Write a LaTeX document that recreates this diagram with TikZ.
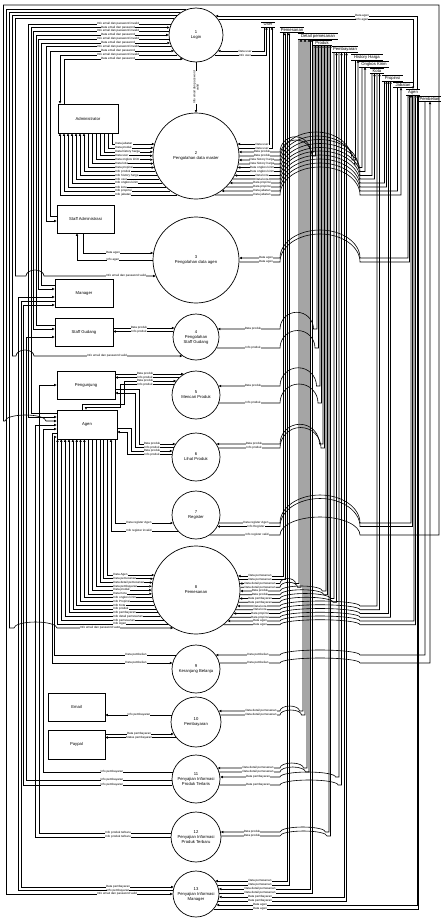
\documentclass[tikz,border=0pt]{standalone}
\usepackage{fontspec}
\setmainfont{Liberation Sans}
\usetikzlibrary{arrows.meta,calc}

\newcommand\lfl[7][center]{%
  \draw[flow,#2] let \p1=(#3.center),\p2=(#3.east),
    \n1={sqrt((\x2-\x1)^2-(\y1+#4)^2)} in (\x1-\n1,-#4pt) #7;
  \node[lbl,anchor=#1] at (#5,#4) {#6};}

\newcommand\rfl[7]{%
  \pgfmathsetmacro\hb{min(#3-3.5,360)}%
  \pgfmathsetmacro\hx{max((\hb-280)/2,0.5)}%
  \pgfmathsetmacro\hy{#2<560 ? min(\hx,28) : min(\hx,5)}%
  \pgfmathtruncatemacro\hop{and(#3>292,#2<870)}%
  \ifnum\hop=1
    \draw[flow,#7] let \p1=(#1.center),\p2=(#1.east),
      \n1={sqrt((\x2-\x1)^2-(\y1+#2)^2)} in (\x1+\n1,-#2pt) -- (280,#2)
      arc[start angle=180,end angle=360,x radius=\hx,y radius=\hy]
      -- (#3,#2) coordinate (lnp) -- (lnp |- #4.south);
  \else
    \draw[flow,#7] let \p1=(#1.center),\p2=(#1.east),
      \n1={sqrt((\x2-\x1)^2-(\y1+#2)^2)} in (\x1+\n1,-#2pt)
      -- (#3,#2) coordinate (lnp) -- (lnp |- #4.south);
  \fi
  \node[lbl] at (#5,#2) {#6};}

\newcommand\vfl[7]{%
  \draw[flow,->] let \p1=(p1.center),\p2=(p1.east),
    \n1={sqrt((\x2-\x1)^2-(\y1+#1)^2)} in (\x1-\n1,-#1pt) -- (#2,#1) -- (#2,#4)
    -- (#5,#4) arc[start angle=180,end angle=360,x radius=#6,y radius=6]
    let \p3=(#3.center),\p4=(#3.east),\n2={sqrt((\x4-\x3)^2-(\y3+#4)^2)} in
    -- (\x3-\n2,-#4pt);
  \node[lbl] at (#7,#4) {Info email dan password valid};}

\begin{document}
\begin{tikzpicture}[x=1pt,y=-1pt,
  flow/.style={line width=0.6pt, >={Triangle[length=2.5pt,width=2.3pt]}},
  tp/.style={<-}, fp/.style={->},
  lbl/.style={font=\fontsize{3}{3.3}\selectfont, fill=white, inner sep=0.15pt},
  proc/.style={circle, draw, line width=0.7pt, fill=white, align=center,
               inner sep=0pt, font=\fontsize{4.2}{5}\selectfont},
  ent/.style={draw, line width=0.7pt, fill=white, font=\fontsize{4.2}{5}\selectfont},
  store/.style={fill=white, inner xsep=1pt, inner ysep=0.9pt,
                font=\fontsize{4.2}{4.6}\selectfont}
]
\useasboundingbox[fill=white] (0,0) rectangle (440,918);

\node[proc, minimum size=54pt] (p1) at (196,35) {1\\Login};
\node[proc, minimum size=86pt] (p2) at (196,156) {2\\Pengolahan data master};
\node[proc, minimum size=86pt] (p3) at (196,260) {3\\Pengolahan data agen};
\node[proc, minimum size=46pt] (p4) at (196,337) {4\\Pengolahan\\Staff Gudang};
\node[proc, minimum size=48pt] (p5) at (196,395) {5\\Mencari Produk};
\node[proc, minimum size=48pt] (p6) at (196,457) {6\\Lihat Produk};
\node[proc, minimum size=48pt] (p7) at (196,515) {7\\Register};
\node[proc, minimum size=88pt] (p8) at (196,590) {8\\Pemesanan};
\node[proc, minimum size=48pt] (p9) at (196,669) {9\\Keranjang Belanja};
\node[proc, minimum size=50pt] (p10) at (196,722) {10\\Pembayaran};
\node[proc, minimum size=48pt] (p11) at (196,779) {11\\Penyajian Informasi\\Produk Terlaris};
\node[proc, minimum size=50pt] (p12) at (196,837) {12\\Penyajian Informasi\\Produk Terbaru};
\node[proc, minimum size=46pt] (p13) at (196,894) {13\\Penyajian Informasi\\Manager};

\node[ent, minimum width=60pt, minimum height=29pt] (admin) at (88,118.5) {Administrator};
\node[ent, minimum width=57pt, minimum height=28pt] (stadm) at (85.5,219) {Staff Administrasi};
\node[ent, minimum width=58pt, minimum height=28pt] (mgr) at (84,293) {Manager};
\node[ent, minimum width=58pt, minimum height=28pt] (stg) at (84,332) {Staff Gudang};
\node[ent, minimum width=58pt, minimum height=28pt] (peng) at (86,385) {Pengunjung};
\node[ent, minimum width=60pt, minimum height=29pt] (agen) at (87,424.5) {Agen};
\node[ent, minimum width=57pt, minimum height=28pt] (email) at (76.5,707) {Email};
\node[ent, minimum width=57pt, minimum height=29pt] (paypal) at (76.5,744.5) {Paypal};

\foreach \nm/\sx/\sy/\tx/\sw in {sUser/268/24.5/User/13, sPemesanan/292/30/Pemesanan/24,
    sDetail/318/36/Detail pemesanan/40, sProduk/322/42.5/Produk/19,
    sPembayaran/345/49.5/Pembayaran/26, sHistory/367/57/History Harga/31,
    sOngkos/374/64/Ongkos Kirim/29, sKota/377/71/Kota/14, sPropinsi/392.5/78/Propinsi/21,
    sJabatan/403/85/Jabatan/19, sAgen/413/92/Agen/13, sPembelian/429.5/99/Pembelian/21}{
  \node[store, minimum width=\sw pt] (\nm) at (\sx,\sy) {\tx};
  \draw[line width=0.6pt] (\nm.north west) -- (\nm.north east) (\nm.south west) -- (\nm.south east);
}

\draw[flow,->] (p1) -- node[lbl, rotate=90, align=center] {Info email dan password\\valid} (p2);

\lfl{fp}{p1}{24}{118}{Info email dan password invalid}{-- (28.5,24) -- (28.5,417) -- (agen.west |- 0,417)}
\lfl{tp}{p1}{27.5}{118}{Data email dan password}{-- (31,27.5) -- (31,413) -- (agen.west |- 0,413)}
\lfl{fp}{p1}{31}{118}{Info email dan password invalid}{-- (33.5,31) -- (33.5,329) -- (stg.west |- 0,329)}
\lfl{tp}{p1}{35}{118}{Data email dan password}{-- (36,35) -- (36,325) -- (stg.west |- 0,325)}
\lfl{fp}{p1}{39}{118}{Info email dan password invalid}{-- (38.5,39) -- (38.5,289) -- (mgr.west |- 0,289)}
\lfl{tp}{p1}{43}{118}{Data email dan password}{-- (41,43) -- (41,285) -- (mgr.west |- 0,285)}
\lfl{fp}{p1}{46.5}{118}{Info email dan password invalid}{-- (46,46.5) -- (46,221) -- (stadm.west |- 0,221)}
\lfl{tp}{p1}{51}{118}{Data email dan password}{-- (50,51) -- (50,216) -- (stadm.west |- 0,216)}
\lfl{fp}{p1}{55}{118}{Info email dan password invalid}{-- (60,55) -- (60,0 |- admin.north)}
\lfl{tp}{p1}{59}{118}{Data email dan password}{-- (64,59) -- (64,0 |- admin.north)}

\draw[flow,tp] let \p1=(p1.center),\p2=(p1.east),\n1={sqrt((\x2-\x1)^2-(\y1+16)^2)} in
  (\x1+\n1,-16pt) -- (417,16) coordinate (lnp) -- (lnp |- sAgen.north);
\draw[flow,fp] let \p1=(p1.center),\p2=(p1.east),\n1={sqrt((\x2-\x1)^2-(\y1+19.5)^2)} in
  (\x1+\n1,-19.5pt) -- (413,19.5) coordinate (lnp) -- (lnp |- sAgen.north);
\node[lbl] at (362,16) {Data agen};
\node[lbl] at (362,19.5) {Info agen};

\vfl{18.5}{15.5}{p3}{276}{26}{9}{126}
\vfl{15.5}{12.5}{p4}{356}{16}{9}{107}
\vfl{12.5}{9.5}{p8}{628}{14}{21.5}{100}
\draw[flow,->] let \p1=(p1.center),\p2=(p1.east),\n1={sqrt((\x2-\x1)^2-(\y1+9.5)^2)} in
  (\x1-\n1,-9.5pt) -- (6.5,9.5) -- (6.5,894)
  let \p3=(p13.center),\p4=(p13.east),\n2={sqrt((\x4-\x3)^2-(\y3+894)^2)} in -- (\x3-\n2,-894pt);
\node[lbl] at (117,894) {Info email dan password valid};

\foreach \lb/\ar [count=\i from 0] in {Data jabatan/tp, Data produk/tp, Data history harga/tp,
    Data user/tp, Data ongkos kirim/tp, Data kota/tp, Data propinsi/tp, Info produk/fp,
    Info history harga/fp, Info user/fp, Info ongkos kirim/fp, Info kota/fp,
    Info propinsi/fp, Info jabatan/fp}{
  \pgfmathsetmacro\yy{144+3.92*\i}
  \pgfmathsetmacro\xx{112-4*\i}
  \lfl[west]{\ar}{p2}{\yy}{115}{\lb}{-- (\xx,\yy) coordinate (lnp) -- (lnp |- admin.south)}
}

\lfl{tp}{p3}{253}{113}{Data agen}{-- (83,253) -- (83,0 |- stadm.south)}
\lfl{fp}{p3}{260}{113}{Info agen}{-- (77,260) -- (77,0 |- stadm.south)}

\lfl{tp}{p4}{328}{139}{Data produk}{-- (stg.east |- 0,328)}
\lfl{fp}{p4}{331.5}{139}{Info produk}{-- (stg.east |- 0,331.5)}

\lfl{tp}{p5}{374}{145}{Data produk}{-- (peng.east |- 0,374)}
\lfl{fp}{p5}{377.5}{145}{Info produk}{-- (peng.east |- 0,377.5)}
\lfl{tp}{p5}{381}{145}{Data produk}{-- (124,381) -- (124,404) -- (82,404) -- (82,0 |- agen.north)}
\lfl{fp}{p5}{384.5}{145}{Info produk}{-- (120,384.5) -- (120,407) -- (86,407) -- (86,0 |- agen.north)}

\lfl{tp}{p6}{444}{152}{Data produk}{-- (139,444) -- (139,389) -- (peng.east |- 0,389)}
\lfl{fp}{p6}{447.5}{152}{Info produk}{-- (135,447.5) -- (135,393) -- (peng.east |- 0,393)}
\lfl{tp}{p6}{451}{152}{Data produk}{-- (131,451) -- (131,428) -- (agen.east |- 0,428)}
\lfl{fp}{p6}{454.5}{152}{Info produk}{-- (127.5,454.5) -- (127.5,432) -- (agen.east |- 0,432)}

\lfl{tp}{p7}{523}{139}{Data register Agen}{-- (115,523) -- (115,0 |- agen.south)}
\lfl{fp}{p7}{531}{139}{Info register invalid}{-- (111,531) -- (111,0 |- agen.south)}

\foreach \lb/\ar [count=\i from 0] in {Data Agen/tp, Data pemesanan/tp, Data detail pemesanan/tp,
    Data pembayaran/tp, Data produk/tp, Data Kota/tp, Info ongkos kirim/fp, Info Propinsi/fp,
    Info Kota/fp, Info produk/fp, Info pembayaran/fp, Info detail pemesanan/fp,
    Info pemesanan/fp, Info Agen/fp}{
  \pgfmathsetmacro\yy{575+3.77*\i}
  \pgfmathsetmacro\xx{107.5-3.85*\i}
  \lfl[west]{\ar}{p8}{\yy}{113}{\lb}{-- (\xx,\yy) coordinate (lnp) -- (lnp |- agen.south)}
}

\lfl{fp}{p9}{655}{136}{Data pembelian}{-- (54.5,655) -- (54.5,437) -- (agen.west |- 0,437)}
\lfl{tp}{p9}{663}{136}{Data pembelian}{-- (52,663) -- (52,433) -- (agen.west |- 0,433)}

\lfl{fp}{p10}{715}{139}{Info pembayaran}{-- (email.east |- 0,715)}
\lfl{tp}{p10}{734}{139}{Data pembayaran}{-- (paypal.east |- 0,734)}
\lfl{fp}{p10}{737.5}{139}{Status pembayaran}{-- (paypal.east |- 0,737.5)}

\lfl{fp}{p11}{772}{112}{Info pembayaran}{-- (43,772) -- (43,429) -- (agen.west |- 0,429)}
\lfl{fp}{p11}{780}{112}{Info pembayaran}{-- (26,780) -- (26,337) -- (stg.west |- 0,337)}
\lfl{fp}{p11}{785}{112}{Info pembayaran}{-- (23.5,785) -- (23.5,305) -- (mgr.west |- 0,305)}

\lfl{fp}{p12}{833}{118}{Info produk terbaru}{-- (39.5,833) -- (39.5,385) -- (peng.west |- 0,385)}
\lfl{fp}{p12}{837}{118}{Info produk terbaru}{-- (35.5,837) -- (35.5,425) -- (agen.west |- 0,425)}

\lfl{tp}{p13}{887}{118}{Data pembayaran}{-- (21,887) -- (21,301) -- (mgr.west |- 0,301)}
\lfl{fp}{p13}{890.5}{118}{Info pembayaran}{-- (18.5,890.5) -- (18.5,297) -- (mgr.west |- 0,297)}

\draw[flow,fp] let \p1=(p7.center),\p2=(p7.east),\n1={sqrt((\x2-\x1)^2-(\y1+535)^2)} in
  (\x1+\n1,-535pt) -- (280,535) arc[start angle=180,end angle=360,x radius=40,y radius=18]
  -- (439,535) -- (439,5) -- (3.5,5) -- (3.5,421) -- (5,421)
  arc[start angle=180,end angle=360,x radius=20.5,y radius=6] -- (agen.west |- 0,421);
\node[lbl] at (257,535) {Info register valid};

\foreach \pr/\yy/\la/\st/\lx/\lb/\ar in {
    p1/51/264/sUser/245/Data user/tp, p1/55/266.5/sUser/245/Info user/fp,
    p2/144/269.5/sUser/262/Data user/tp, p2/148/272/sUser/262/Data user/fp,
    p2/152/314/sProduk/262/Data produk/tp, p2/156/315.5/sProduk/262/Data produk/fp,
    p2/160/355.5/sHistory/262/Data history harga/tp, p2/164/358/sHistory/262/Data history harga/fp,
    p2/167.5/362/sOngkos/262/Data ongkos kirim/tp, p2/171.5/365/sOngkos/262/Data ongkos kirim/fp,
    p2/175.5/372/sKota/262/Data kota/tp, p2/179/374.5/sKota/262/Data kota/fp,
    p2/183/384.5/sPropinsi/262/Data propinsi/tp, p2/187/386.5/sPropinsi/262/Data propinsi/fp,
    p2/191/397.5/sJabatan/262/Data jabatan/tp, p2/195/401/sJabatan/262/Data jabatan/fp,
    p3/258/408/sAgen/266/Data agen/tp, p3/262/409.5/sAgen/266/Data agen/fp,
    p4/329/317/sProduk/253/Data produk/tp, p4/348/318.5/sProduk/253/Info produk/fp,
    p5/386/320/sProduk/253/Data produk/tp, p5/403/321.5/sProduk/253/Info produk/fp,
    p6/444/323/sProduk/254/Data produk/tp, p6/448/324.5/sProduk/254/Info produk/fp,
    p7/523/411/sAgen/256/Data register Agen/fp, p7/526.5/412.5/sAgen/256/Info Register/tp,
    p8/576/283/sPemesanan/260/Data pemesanan/tp, p8/579.75/285/sPemesanan/260/Data pemesanan/fp,
    p8/583.5/299/sDetail/260/Data detail pemesanan/tp, p8/587.25/301/sDetail/260/Data detail pemesanan/fp,
    p8/591/326/sProduk/260/Data produk/tp, p8/594.75/327.5/sProduk/260/Data produk/fp,
    p8/598.5/334/sPembayaran/260/Data pembayaran/tp, p8/602.25/336.5/sPembayaran/260/Data pembayaran/fp,
    p8/606/377/sKota/260/Data kota/tp, p8/609.75/379.5/sKota/260/Data kota/fp,
    p8/613.5/388.5/sPropinsi/260/Data propinsi/tp, p8/617.25/390.5/sPropinsi/260/Data propinsi/fp,
    p8/621/414/sAgen/260/Data agen/tp, p8/624.75/415.5/sAgen/260/Data agen/fp,
    p9/655/425/sPembelian/258/Data pembelian/tp, p9/663/430/sPembelian/258/Data pembelian/fp,
    p10/711/303/sDetail/261/Data detail pemesanan/tp, p10/715/305/sDetail/261/Data detail pemesanan/fp,
    p11/768/307/sDetail/258/Data detail pemesanan/tp, p11/772/309/sDetail/258/Data detail pemesanan/fp,
    p11/777/339/sPembayaran/258/Data pembayaran/tp, p11/785/341.5/sPembayaran/258/Data pembayaran/fp,
    p12/832/329/sProduk/252/Data produk/tp, p12/836/330.5/sProduk/252/Data produk/fp,
    p13/881/287/sPemesanan/260/Data pemesanan/tp, p13/885/289/sPemesanan/260/Data pemesanan/fp,
    p13/889/310.5/sDetail/260/Data detail pemesanan/tp, p13/893/312/sDetail/260/Data detail pemesanan/fp,
    p13/897/344/sPembayaran/260/Data pembayaran/tp, p13/901/346.5/sPembayaran/260/Data pembayaran/fp,
    p13/905/417/sAgen/260/Data agen/tp, p13/909/418.5/sAgen/260/Data agen/fp}{
  \rfl{\pr}{\yy}{\la}{\st}{\lx}{\lb}{\ar}
}
\end{tikzpicture}
\end{document}
